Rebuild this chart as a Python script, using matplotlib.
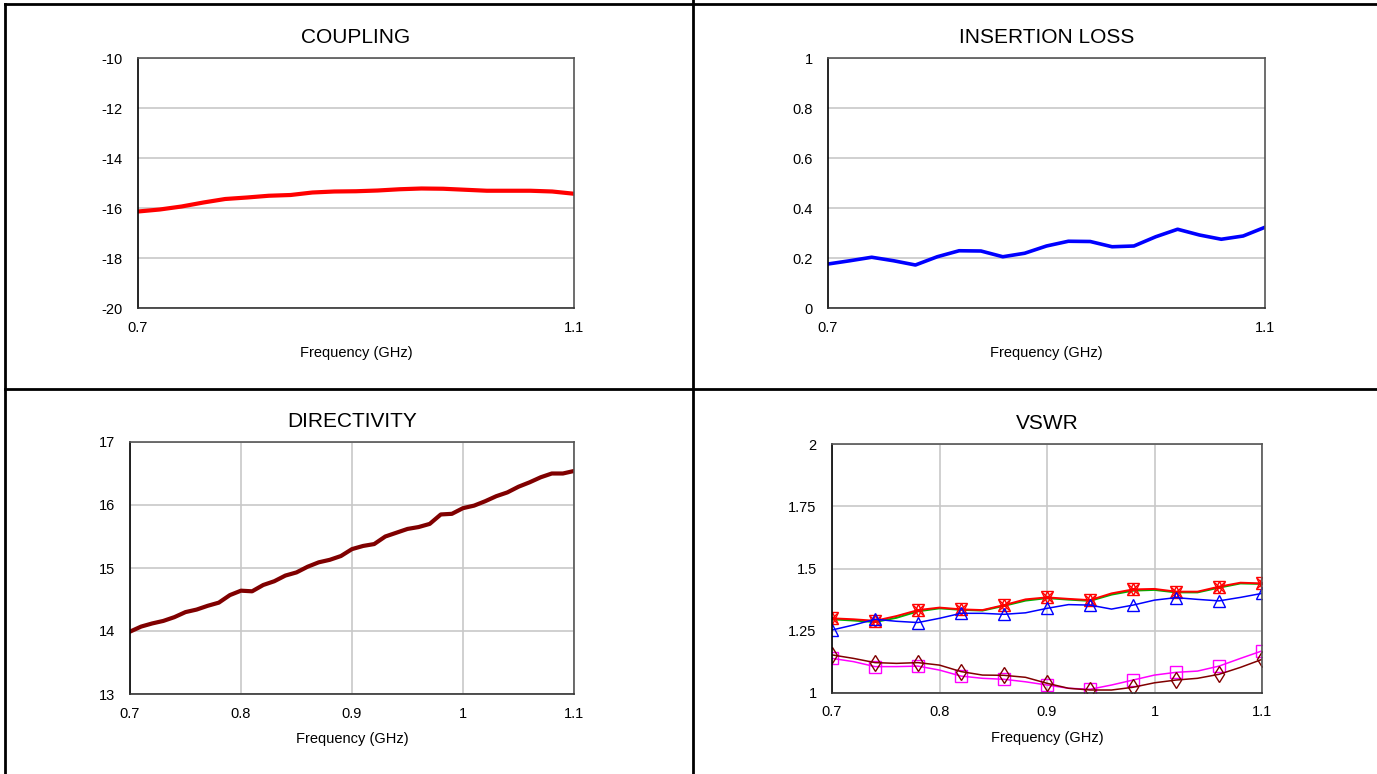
import matplotlib
matplotlib.use("Agg")
import matplotlib.pyplot as plt
from matplotlib.lines import Line2D

plt.rcParams['font.family'] = ['Liberation Sans', 'DejaVu Sans']
plt.rcParams['axes.unicode_minus'] = False

# frequency grids (GHz)
freq_02 = [0.70, 0.72, 0.74, 0.76, 0.78, 0.80, 0.82, 0.84, 0.86, 0.88, 0.90,
           0.92, 0.94, 0.96, 0.98, 1.00, 1.02, 1.04, 1.06, 1.08, 1.10]
freq_01 = [0.70, 0.71, 0.72, 0.73, 0.74, 0.75, 0.76, 0.77, 0.78, 0.79, 0.80,
           0.81, 0.82, 0.83, 0.84, 0.85, 0.86, 0.87, 0.88, 0.89, 0.90,
           0.91, 0.92, 0.93, 0.94, 0.95, 0.96, 0.97, 0.98, 0.99, 1.00,
           1.01, 1.02, 1.03, 1.04, 1.05, 1.06, 1.07, 1.08, 1.09, 1.10]

coupling = [-16.14, -16.06, -15.94, -15.78, -15.64, -15.58, -15.51, -15.48, -15.38, -15.34, -15.33,
            -15.30, -15.25, -15.22, -15.23, -15.27, -15.31, -15.31, -15.31, -15.34, -15.43]

insertion_loss = [0.176, 0.189, 0.203, 0.189, 0.172, 0.205, 0.229, 0.228, 0.205, 0.219, 0.248,
                  0.267, 0.266, 0.245, 0.248, 0.285, 0.315, 0.292, 0.275, 0.288, 0.323]

directivity = [13.99, 14.07, 14.12, 14.16, 14.22, 14.30, 14.34, 14.40, 14.45, 14.57, 14.64,
               14.63, 14.73, 14.79, 14.88, 14.93, 15.02, 15.09, 15.13, 15.19, 15.30,
               15.35, 15.38, 15.50, 15.56, 15.62, 15.65, 15.70, 15.85, 15.86, 15.95,
               15.99, 16.06, 16.14, 16.20, 16.29, 16.36, 16.44, 16.50, 16.50, 16.54]

vswr_red = [1.300, 1.296, 1.290, 1.309, 1.333, 1.343, 1.336, 1.333, 1.353, 1.376, 1.384,
            1.378, 1.373, 1.400, 1.416, 1.418, 1.407, 1.407, 1.427, 1.443, 1.440]
vswr_green = [1.296, 1.291, 1.285, 1.302, 1.328, 1.340, 1.334, 1.331, 1.350, 1.371, 1.381,
              1.375, 1.370, 1.395, 1.411, 1.414, 1.404, 1.404, 1.423, 1.440, 1.438]
vswr_blue = [1.253, 1.273, 1.296, 1.288, 1.283, 1.300, 1.320, 1.320, 1.316, 1.322, 1.340,
             1.355, 1.353, 1.337, 1.353, 1.373, 1.383, 1.376, 1.370, 1.384, 1.400]
vswr_magenta = [1.139, 1.126, 1.106, 1.106, 1.108, 1.092, 1.068, 1.059, 1.055, 1.045, 1.032,
                1.019, 1.015, 1.032, 1.052, 1.072, 1.083, 1.088, 1.108, 1.139, 1.169]
vswr_brown = [1.153, 1.139, 1.122, 1.119, 1.122, 1.112, 1.086, 1.072, 1.071, 1.063, 1.039,
              1.019, 1.012, 1.012, 1.023, 1.041, 1.052, 1.059, 1.075, 1.103, 1.135]

W, H = 1377, 774
fig = plt.figure(figsize=(W / 100, H / 100), dpi=100)


def box(left, right, top, bottom):
    return [left / W, 1 - bottom / H, (right - left) / W, (bottom - top) / H]


def style(ax, title, xgrid):
    ax.set_title(title, fontsize=15, pad=11)
    ax.set_xlabel("Frequency (GHz)", fontsize=10.5, labelpad=8)
    ax.tick_params(length=0, labelsize=10.5)
    ax.tick_params(axis='y', pad=11)
    ax.tick_params(axis='x', pad=9)
    ax.grid(axis='y', color='#c8c8c8', linewidth=1.2)
    if xgrid:
        ax.grid(axis='x', color='#c8c8c8', linewidth=1.2)
    ax.set_axisbelow(True)
    for s in ax.spines.values():
        s.set_color('#555555')
        s.set_linewidth(1.2)
    ax.spines['left'].set_color('black')
    ax.spines['bottom'].set_color('#333333')


# COUPLING
ax1 = fig.add_axes(box(138, 574, 58, 308))
ax1.plot(freq_02, coupling, color='#ff0000', linewidth=3)
ax1.set_xlim(0.7, 1.1)
ax1.set_ylim(-20, -10)
ax1.set_xticks([0.7, 1.1], ["0.7", "1.1"])
ax1.set_yticks([-20, -18, -16, -14, -12, -10])
style(ax1, "COUPLING", False)

# INSERTION LOSS
ax2 = fig.add_axes(box(828, 1265, 58, 308))
ax2.plot(freq_02, insertion_loss, color='#0000ff', linewidth=2.6)
ax2.set_xlim(0.7, 1.1)
ax2.set_ylim(0, 1)
ax2.set_xticks([0.7, 1.1], ["0.7", "1.1"])
ax2.set_yticks([0, 0.2, 0.4, 0.6, 0.8, 1], ["0", "0.2", "0.4", "0.6", "0.8", "1"])
style(ax2, "INSERTION LOSS", False)

# DIRECTIVITY
ax3 = fig.add_axes(box(130, 574, 442, 694))
ax3.plot(freq_01, directivity, color='#800000', linewidth=3)
ax3.set_xlim(0.7, 1.1)
ax3.set_ylim(13, 17)
ax3.set_xticks([0.7, 0.8, 0.9, 1.0, 1.1], ["0.7", "0.8", "0.9", "1", "1.1"])
ax3.set_yticks([13, 14, 15, 16, 17])
style(ax3, "DIRECTIVITY", True)

# VSWR
ax4 = fig.add_axes(box(832, 1262, 444, 693))
ax4.plot(freq_02, vswr_green, color='#00b000', linewidth=1.4)
ax4.plot(freq_02, vswr_red, color='#ff0000', linewidth=1.4,
         marker='v', markevery=2, markersize=8.5, markerfacecolor='none', markeredgewidth=1)
ax4.plot(freq_02[::2], vswr_red[::2], linestyle='none', color='#ff0000',
         marker='^', markersize=8.5, markerfacecolor='none', markeredgewidth=1)
ax4.plot(freq_02[::2], vswr_red[::2], linestyle='none', color='#ff0000',
         marker='x', markersize=7, markeredgewidth=1)
ax4.plot(freq_02, vswr_blue, color='#0000ff', linewidth=1.1,
         marker='^', markevery=2, markersize=9, markerfacecolor='none', markeredgewidth=1)
ax4.plot(freq_02, vswr_magenta, color='#ff00ff', linewidth=1.1,
         marker='s', markevery=2, markersize=8, markerfacecolor='none', markeredgewidth=1)
ax4.plot(freq_02, vswr_brown, color='#800000', linewidth=1.1,
         marker='d', markevery=2, markersize=8, markerfacecolor='none', markeredgewidth=1)
ax4.set_xlim(0.7, 1.1)
ax4.set_ylim(1, 2)
ax4.set_xticks([0.7, 0.8, 0.9, 1.0, 1.1], ["0.7", "0.8", "0.9", "1", "1.1"])
ax4.set_yticks([1, 1.25, 1.5, 1.75, 2], ["1", "1.25", "1.5", "1.75", "2"])
style(ax4, "VSWR", True)

# table borders
for x0, y0, x1, y1 in [(5, 4, 1377, 4), (5, 389, 1377, 389), (5, 4, 5, 774), (693, 0, 693, 774)]:
    fig.add_artist(Line2D([x0 / W, x1 / W], [1 - y0 / H, 1 - y1 / H],
                          transform=fig.transFigure, color='black', linewidth=2))

fig.savefig("out.png", dpi=100, facecolor='white')
